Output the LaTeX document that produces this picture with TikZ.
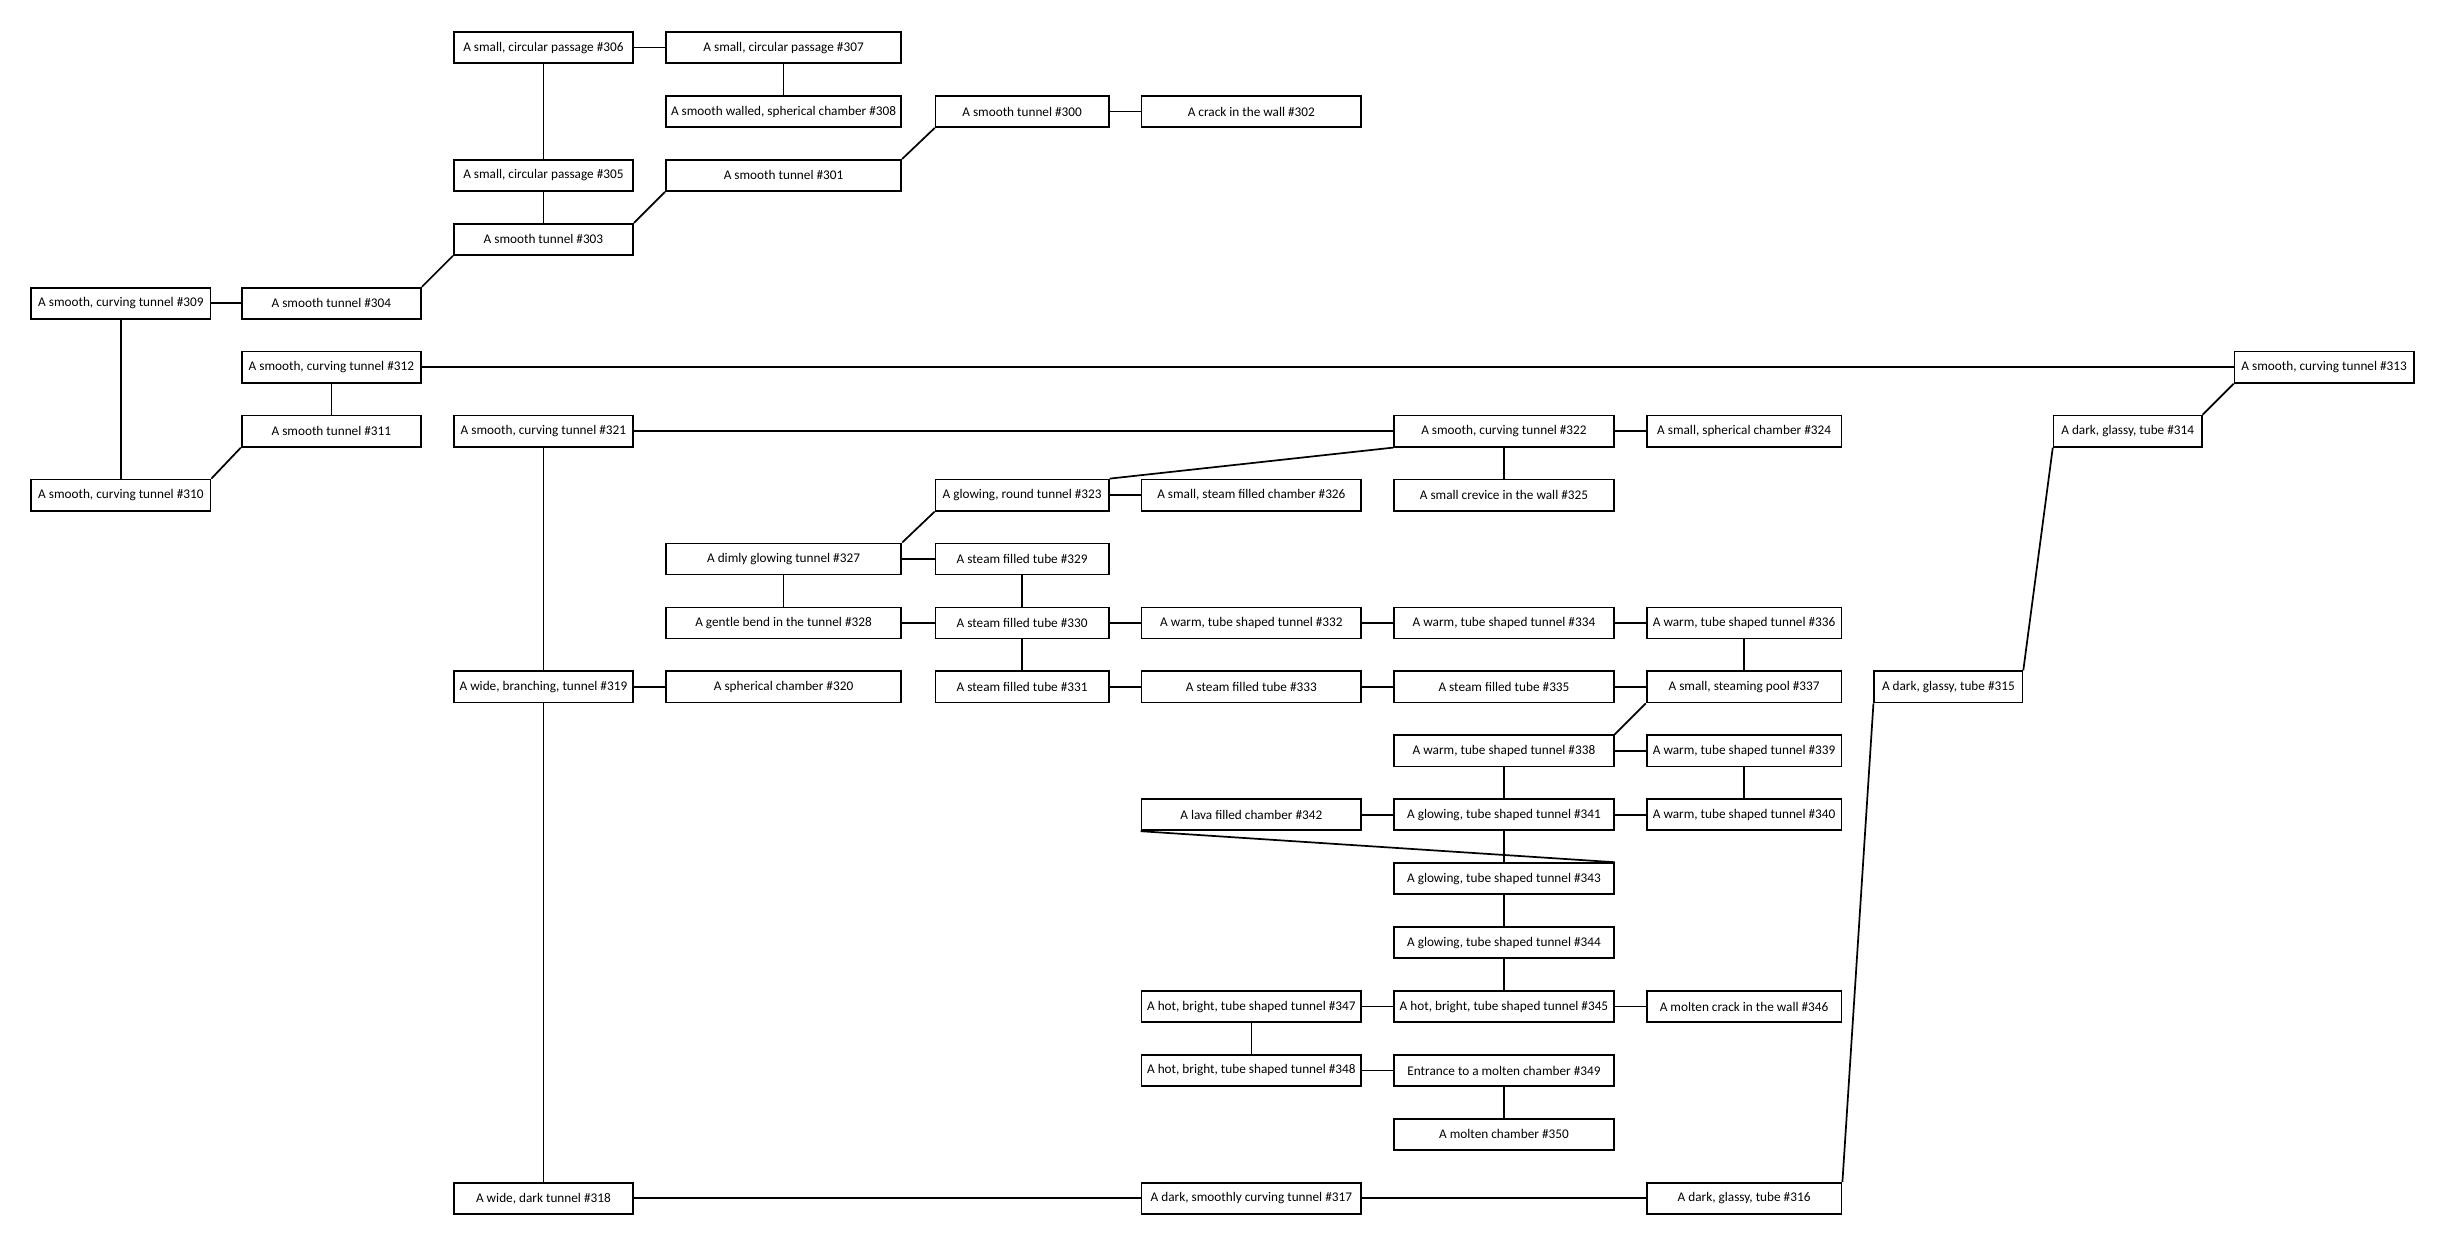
\documentclass[tikz,border=0pt]{standalone}
\usepackage{fontspec}
\setmainfont{Carlito}
\begin{document}
\begin{tikzpicture}[x=1pt,y=-1pt,
  bx/.style={draw, line width=1.1pt, minimum height=20pt, inner sep=0pt, font=\fontsize{8.5}{10}\selectfont},
  cA/.style={bx, minimum width=115pt}, cB/.style={bx, minimum width=115pt},
  cC/.style={bx, minimum width=115pt}, cD/.style={bx, minimum width=151pt},
  cE/.style={bx, minimum width=111pt}, cF/.style={bx, minimum width=141pt},
  cG/.style={bx, minimum width=141pt}, cH/.style={bx, minimum width=125pt},
  cI/.style={bx, minimum width=95pt}, cJ/.style={bx, minimum width=95pt},
  cK/.style={bx, minimum width=115pt},
  ln/.style={line width=1.1pt}]
\useasboundingbox (0,0) rectangle (1568,800);
% column centres: A 77.5, B 212.5, C 348.5, D 502.5, E 655.5, F 802.5, G 964.5, H 1118.5, I 1249.5, J 1364.5, K 1490.5
% row centres: 30.5 + 41 n
\node[cC] (n306) at (348.5,30.5) {A small, circular passage \#306};
\node[cD] (n307) at (502.5,30.5) {A small, circular passage \#307};
\node[cD] (n308) at (502.5,71.5) {A smooth walled, spherical chamber \#308};
\node[cE] (n300) at (655.5,71.5) {A smooth tunnel \#300};
\node[cF] (n302) at (802.5,71.5) {A crack in the wall \#302};
\node[cC] (n305) at (348.5,112.5) {A small, circular passage \#305};
\node[cD] (n301) at (502.5,112.5) {A smooth tunnel \#301};
\node[cC] (n303) at (348.5,153.5) {A smooth tunnel \#303};
\node[cA] (n309) at (77.5,194.5) {A smooth, curving tunnel \#309};
\node[cB] (n304) at (212.5,194.5) {A smooth tunnel \#304};
\node[cB] (n312) at (212.5,235.5) {A smooth, curving tunnel \#312};
\node[cK] (n313) at (1490.5,235.5) {A smooth, curving tunnel \#313};
\node[cB] (n311) at (212.5,276.5) {A smooth tunnel \#311};
\node[cC] (n321) at (348.5,276.5) {A smooth, curving tunnel \#321};
\node[cG] (n322) at (964.5,276.5) {A smooth, curving tunnel \#322};
\node[cH] (n324) at (1118.5,276.5) {A small, spherical chamber \#324};
\node[cJ] (n314) at (1364.5,276.5) {A dark, glassy, tube \#314};
\node[cA] (n310) at (77.5,317.5) {A smooth, curving tunnel \#310};
\node[cE] (n323) at (655.5,317.5) {A glowing, round tunnel \#323};
\node[cF] (n326) at (802.5,317.5) {A small, steam filled chamber \#326};
\node[cG] (n325) at (964.5,317.5) {A small crevice in the wall \#325};
\node[cD] (n327) at (502.5,358.5) {A dimly glowing tunnel \#327};
\node[cE] (n329) at (655.5,358.5) {A steam filled tube \#329};
\node[cD] (n328) at (502.5,399.5) {A gentle bend in the tunnel \#328};
\node[cE] (n330) at (655.5,399.5) {A steam filled tube \#330};
\node[cF] (n332) at (802.5,399.5) {A warm, tube shaped tunnel \#332};
\node[cG] (n334) at (964.5,399.5) {A warm, tube shaped tunnel \#334};
\node[cH] (n336) at (1118.5,399.5) {A warm, tube shaped tunnel \#336};
\node[cC] (n319) at (348.5,440.5) {A wide, branching, tunnel \#319};
\node[cD] (n320) at (502.5,440.5) {A spherical chamber \#320};
\node[cE] (n331) at (655.5,440.5) {A steam filled tube \#331};
\node[cF] (n333) at (802.5,440.5) {A steam filled tube \#333};
\node[cG] (n335) at (964.5,440.5) {A steam filled tube \#335};
\node[cH] (n337) at (1118.5,440.5) {A small, steaming pool \#337};
\node[cI] (n315) at (1249.5,440.5) {A dark, glassy, tube \#315};
\node[cG] (n338) at (964.5,481.5) {A warm, tube shaped tunnel \#338};
\node[cH] (n339) at (1118.5,481.5) {A warm, tube shaped tunnel \#339};
\node[cF] (n342) at (802.5,522.5) {A lava filled chamber \#342};
\node[cG] (n341) at (964.5,522.5) {A glowing, tube shaped tunnel \#341};
\node[cH] (n340) at (1118.5,522.5) {A warm, tube shaped tunnel \#340};
\node[cG] (n343) at (964.5,563.5) {A glowing, tube shaped tunnel \#343};
\node[cG] (n344) at (964.5,604.5) {A glowing, tube shaped tunnel \#344};
\node[cF] (n347) at (802.5,645.5) {A hot, bright, tube shaped tunnel \#347};
\node[cG] (n345) at (964.5,645.5) {A hot, bright, tube shaped tunnel \#345};
\node[cH] (n346) at (1118.5,645.5) {A molten crack in the wall \#346};
\node[cF] (n348) at (802.5,686.5) {A hot, bright, tube shaped tunnel \#348};
\node[cG] (n349) at (964.5,686.5) {Entrance to a molten chamber \#349};
\node[cG] (n350) at (964.5,727.5) {A molten chamber \#350};
\node[cC] (n318) at (348.5,768.5) {A wide, dark tunnel \#318};
\node[cF] (n317) at (802.5,768.5) {A dark, smoothly curving tunnel \#317};
\node[cH] (n316) at (1118.5,768.5) {A dark, glassy, tube \#316};
% horizontal connectors
\foreach \a/\b in {306/307,300/302,309/304,312/313,321/322,322/324,323/326,327/329,328/330,330/332,332/334,334/336,319/320,331/333,333/335,335/337,338/339,342/341,341/340,347/345,345/346,348/349,318/317,317/316}
  \draw[ln] (n\a.east) -- (n\b.west);
% vertical connectors
\foreach \a/\b in {306/305,307/308,305/303,309/310,312/311,321/319,319/318,322/325,327/328,329/330,330/331,336/337,338/341,339/340,341/343,343/344,344/345,347/348,349/350}
  \draw[ln] (n\a.south) -- (n\b.north);
% diagonal connectors
\draw[ln] (n303.north east) -- (n301.south west);
\draw[ln] (n301.north east) -- (n300.south west);
\draw[ln] (n304.north east) -- (n303.south west);
\draw[ln] (n310.north east) -- (n311.south west);
\draw[ln] (n313.south west) -- (n314.north east);
\draw[ln] (n314.south west) -- (n315.north east);
\draw[ln] (n315.south west) -- (n316.north east);
\draw[ln] (n322.south west) -- (n323.north east);
\draw[ln] (n323.south west) -- (n327.north east);
\draw[ln] (n337.south west) -- (n338.north east);
\draw[ln] (n342.south west) -- (n343.north east);
\end{tikzpicture}
\end{document}
